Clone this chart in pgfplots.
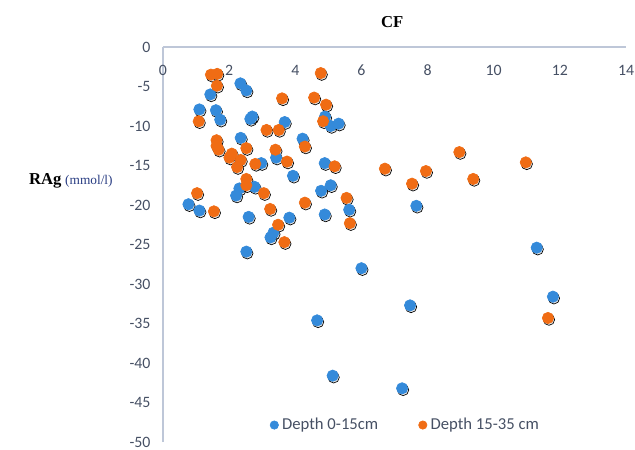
\documentclass[border=0pt]{standalone}
\usepackage{pgfplots}
\usepackage{pgfplotstable}
\pgfplotsset{compat=1.18}
\usepackage{fontspec}
\setmainfont{Carlito}
\newfontfamily\seriffont{Liberation Serif}

\definecolor{dotblue}{RGB}{52,138,218}
\definecolor{dotorange}{RGB}{240,108,20}
\definecolor{axisgray}{RGB}{190,199,216}
\definecolor{ticktext}{RGB}{70,80,100}
\definecolor{unitblue}{RGB}{40,60,130}

% depth 0-15 cm
\pgfplotstableread{
x y
2.34 -4.6
2.52 -5.5
1.43 -6.0
1.10 -7.9
1.60 -8.0
1.73 -9.2
2.64 -9.1
2.70 -8.8
3.68 -9.5
4.90 -8.8
5.07 -10.0
5.31 -9.7
2.35 -11.5
4.22 -11.6
3.42 -14.0
2.97 -14.7
4.89 -14.7
3.93 -16.3
2.31 -17.9
2.21 -18.8
2.77 -17.7
5.07 -17.5
4.78 -18.2
0.77 -19.9
1.10 -20.7
2.59 -21.5
3.82 -21.6
4.89 -21.2
5.63 -20.6
3.34 -23.5
3.25 -24.1
2.52 -25.9
6.00 -28.0
7.66 -20.1
11.30 -25.4
11.79 -31.6
7.47 -32.7
4.66 -34.6
5.13 -41.6
7.23 -43.2
}\shallow

% depth 15-35 cm
\pgfplotstableread{
x y
1.45 -3.5
1.64 -3.4
1.63 -4.9
4.77 -3.3
3.60 -6.5
4.57 -6.4
4.93 -7.3
1.08 -9.4
4.84 -9.4
3.13 -10.5
3.50 -10.5
4.29 -12.6
1.62 -11.8
1.62 -12.5
1.68 -13.0
2.52 -12.8
3.40 -13.0
3.75 -14.5
2.08 -13.5
2.01 -14.0
2.35 -14.3
2.24 -15.2
2.79 -14.8
5.19 -15.1
6.71 -15.4
2.52 -16.7
2.52 -17.5
3.05 -18.5
5.55 -19.1
1.03 -18.5
4.29 -19.7
1.54 -20.8
3.24 -20.5
5.65 -22.3
3.48 -22.5
3.67 -24.7
8.96 -13.3
10.97 -14.6
7.95 -15.7
7.53 -17.3
9.38 -16.7
11.64 -34.3
}\deep

\begin{document}
\begin{tikzpicture}
\begin{axis}[
    scale only axis,
    width=277.8pt,
    height=237pt,
    xmin=0, xmax=14,
    ymin=-50, ymax=0,
    xtick={0,2,...,14},
    ytick={-50,-45,...,0},
    axis x line=top,
    axis y line=left,
    axis line style={axisgray, line width=1.1pt, -},
    major tick length=0pt,
    clip=false,
    /pgf/number format/assume math mode=true,
    tick label style={font=\fontsize{9.5}{11}\selectfont, text=ticktext},
    xticklabel style={anchor=center, yshift=-13.8pt},
    yticklabel style={anchor=east, xshift=-4pt},
    ylabel={{\seriffont\bfseries RAg} {\seriffont\fontsize{8}{10}\selectfont\color{unitblue}(mmol/l)}},
    ylabel style={rotate=-90, at={(rel axis cs:-0.302,0.661)}, anchor=west, font=\fontsize{10}{12}\selectfont},
    legend style={at={(rel axis cs:0.525,0.043)}, anchor=center, draw=none, fill=none,
        font=\fontsize{10}{12}\selectfont, text=ticktext,
        /tikz/every even column/.append style={column sep=22pt}},
    legend columns=2,
    legend image code/.code={\fill[#1] (0.1cm,0cm) circle (2.5pt);},
    legend cell align=left,
]
% soft shadows under the dots
\addplot[only marks, mark=*, mark size=3.4pt, forget plot,
    mark options={draw=none, fill=black, fill opacity=0.11, xshift=0.6pt, yshift=-1pt}]
    table[x=x, y=y] {\shallow};
\addplot[only marks, mark=*, mark size=3.4pt, forget plot,
    mark options={draw=none, fill=black, fill opacity=0.11, xshift=0.6pt, yshift=-1pt}]
    table[x=x, y=y] {\deep};

\addplot[only marks, mark=*, mark size=3.4pt, color=dotblue, mark options={draw=none, fill=dotblue}]
    table[x=x, y=y] {\shallow};
\addplot[only marks, mark=*, mark size=3.4pt, color=dotorange, mark options={draw=none, fill=dotorange}]
    table[x=x, y=y] {\deep};
\legend{Depth 0-15cm, Depth 15-35 cm}

\node[font=\seriffont\bfseries\fontsize{10}{12}\selectfont] at (rel axis cs:0.495,1.063) {CF};

\coordinate (bl) at (rel axis cs:-0.352,-0.0177);
\coordinate (tr) at (rel axis cs:1.0194,1.119);
\end{axis}
\pgfresetboundingbox
\path[use as bounding box] (bl) rectangle (tr);
\end{tikzpicture}
\end{document}
